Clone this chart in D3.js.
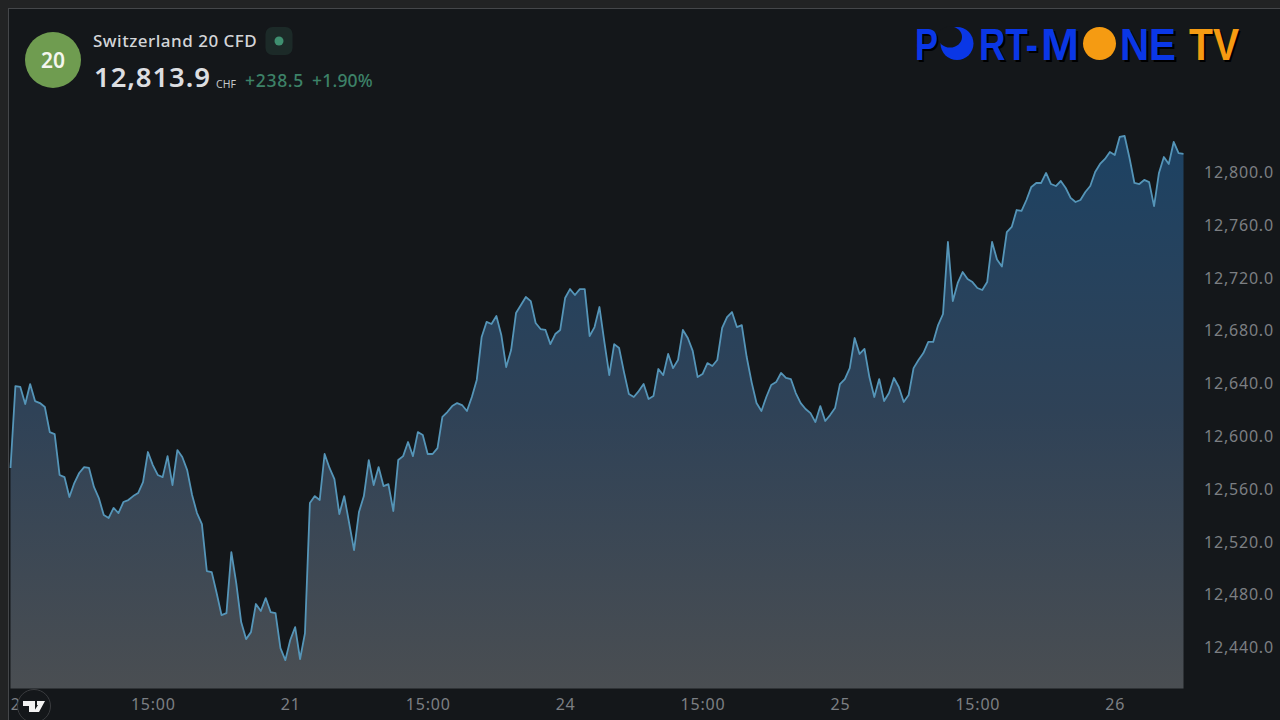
<!DOCTYPE html>
<html lang="en">
<head>
  <meta charset="UTF-8">
  <title>Switzerland 20 CFD</title>
  <style>
    * { margin: 0; padding: 0; box-sizing: border-box; }
    html, body { width: 1280px; height: 720px; overflow: hidden; background: #222324; }
    svg { display: block; }
    text { font-family: "Noto Sans", sans-serif; }
    .tick text { fill: #7c7f83; font-size: 16px; letter-spacing: 0.8px; }
    .logo text { font-family: "Liberation Sans", Arial, sans-serif; font-weight: 700; font-size: 45px; text-shadow: 2px 2px 0 #000; }
  </style>
</head>
<body>
  <div id="chart"></div>

  <script src="https://d3js.org/d3.v7.min.js"></script>
  <script>
    // 30 minute closes
    const prices = [
      12575.3, 12637.4, 12636.7, 12623.8, 12638.9, 12626, 12624.5, 12621.5, 12602.5, 12601,
      12570, 12568.4, 12553.3, 12563.9, 12571.5, 12576, 12575.3, 12560.9, 12552.5, 12539.6,
      12537.4, 12545, 12541.1, 12549.5, 12551, 12554, 12556.3, 12564.6, 12587.4, 12577.5,
      12570, 12568.4, 12584.3, 12562.4, 12588.9, 12583.6, 12573.7, 12554.8, 12541.1, 12532.8,
      12497.2, 12496.4, 12480.5, 12463.8, 12465.3, 12511.6, 12488.1, 12458.5, 12445.6, 12450.9,
      12472.2, 12466.9, 12476.7, 12466.1, 12465.3, 12438.8, 12429.7, 12444.9, 12454.7, 12430.5,
      12450.2, 12548.7, 12554, 12551, 12585.9, 12575.3, 12566.9, 12540.4, 12554, 12533.6,
      12513.1, 12541.9, 12554, 12581.3, 12562.4, 12576, 12561.6, 12563.1, 12542.7, 12581.3,
      12584.3, 12595, 12584.3, 12602.5, 12600.3, 12585.9, 12585.9, 12590.4, 12614, 12617.7,
      12622.2, 12624.5, 12623, 12618.5, 12629.1, 12642, 12674.6, 12686, 12684.4, 12690.5,
      12676.1, 12651.8, 12664.7, 12692.7, 12698.8, 12704.9, 12701.8, 12685.2, 12680.6, 12679.9,
      12669.2, 12676.8, 12679.9, 12704.1, 12710.9, 12706.4, 12710.9, 12710.9, 12675.3, 12682.1,
      12697.3, 12670.8, 12645.7, 12669.2, 12666.2, 12648, 12631.3, 12629.1, 12633.6, 12638.9,
      12627.6, 12629.8, 12650.3, 12645.7, 12661.7, 12651, 12657.1, 12679.9, 12673.8, 12664,
      12644.2, 12646.5, 12654.8, 12652.6, 12657.1, 12681.4, 12689.7, 12693.5, 12682.1, 12683.6,
      12659.4, 12640.4, 12624.5, 12618.5, 12629.1, 12638.2, 12640.4, 12647.3, 12643.5, 12642.7,
      12632.1, 12624.5, 12620, 12616.9, 12610.1, 12622.2, 12610.9, 12615.4, 12620.7, 12638.9,
      12642.7, 12651, 12673.8, 12661.7, 12665.5, 12644.2, 12629.1, 12642.7, 12626, 12632.1,
      12643.5, 12636.7, 12625.3, 12630.6, 12651, 12657.1, 12662.4, 12670.8, 12670.8, 12683.6,
      12692, 12746.6, 12701.8, 12715.5, 12723.8, 12718.5, 12716.2, 12711.7, 12710.2, 12716.2,
      12746.6, 12733.3, 12728, 12754.1, 12758, 12770.8, 12770.1, 12778.4, 12788.3, 12791.3,
      12791.3, 12798.9, 12790.5, 12789, 12792.8, 12787.5, 12780, 12776.9, 12778.4, 12784.5,
      12789, 12799.6, 12805.7, 12809.5, 12814.8, 12812.5, 12826.2, 12826.9, 12810.2, 12791.3,
      12790.5, 12793.6, 12792, 12773.8, 12798.9, 12811, 12805.7, 12822.4, 12814, 12813.3
    ];

    const yTicks = [12440, 12480, 12520, 12560, 12600, 12640, 12680, 12720, 12760, 12800];
    const xTickBars = [2, 29, 57, 85, 113, 141, 169, 197, 225];
    const xTickLabels = ["20", "15:00", "21", "15:00", "24", "15:00", "25", "15:00", "26"];

    const width = 1280;
    const height = 720;
    const plot = { left: 10.5, right: 1183.5, bottom: 688.5, top: 9 };

    const x = d3.scaleLinear().domain([0, prices.length - 1]).range([plot.left, plot.right]);
    const y = d3.scaleLinear().domain([12440, 12800]).range([646.5, 171.5]);

    const svg = d3.select("#chart").append("svg")
      .attr("width", width)
      .attr("height", height);

    const defs = svg.append("defs");
    const grad = defs.append("linearGradient")
      .attr("id", "areaFill")
      .attr("gradientUnits", "userSpaceOnUse")
      .attr("x1", 0).attr("x2", 0)
      .attr("y1", 136).attr("y2", plot.bottom);
    grad.append("stop").attr("offset", "0%").attr("stop-color", "#1d4263");
    grad.append("stop").attr("offset", "50%").attr("stop-color", "#2f4257");
    grad.append("stop").attr("offset", "100%").attr("stop-color", "#4a4e52");

    // panel with thin frame
    svg.append("rect")
      .attr("x", 8.5).attr("y", 8.5)
      .attr("width", width - 8).attr("height", height)
      .attr("fill", "#14171a")
      .attr("stroke", "#45474a");

    const area = d3.area()
      .x((d, i) => x(i))
      .y0(plot.bottom)
      .y1(d => y(d));

    const line = d3.line()
      .x((d, i) => x(i))
      .y(d => y(d));

    svg.append("path").datum(prices)
      .attr("d", area)
      .attr("fill", "url(#areaFill)");

    svg.append("path").datum(prices)
      .attr("d", line)
      .attr("fill", "none")
      .attr("stroke", "#5595b8")
      .attr("stroke-width", 1.8)
      .attr("stroke-linejoin", "round");

    // axes
    const yAxis = d3.axisRight(y)
      .tickValues(yTicks)
      .tickSize(0)
      .tickPadding(0)
      .tickFormat(d3.format(",.1f"));
    svg.append("g")
      .attr("transform", "translate(1204,1)")
      .call(yAxis)
      .call(g => g.select(".domain").remove());

    const xAxis = d3.axisBottom(x)
      .tickValues(xTickBars)
      .tickSize(0)
      .tickPadding(0)
      .tickFormat((d, i) => xTickLabels[i]);
    svg.append("g")
      .attr("transform", "translate(0,699)")
      .call(xAxis)
      .call(g => g.select(".domain").remove());

    // TradingView badge
    const badge = svg.append("g").attr("transform", "translate(34,706)");
    badge.append("circle").attr("r", 16.5).attr("fill", "#14171a").attr("stroke", "#3a3c3f");
    badge.append("path")
      .attr("d", "M-11,-5H1V6H-5V0H-11Z M3,-5H11L5,6H-0.5L4,-1H3Z")
      .attr("fill", "#f2f2f2");

    // header
    svg.append("circle").attr("cx", 53).attr("cy", 60).attr("r", 28).attr("fill", "#6f9c50");
    svg.append("text").attr("x", 53).attr("y", 67.5)
      .attr("text-anchor", "middle")
      .attr("fill", "#f4f6ef").attr("font-size", 21).attr("font-weight", 600)
      .text("20");

    svg.append("text").attr("x", 93).attr("y", 46.5)
      .attr("fill", "#d3d5d8").attr("font-size", 17).attr("font-weight", 500)
      .attr("letter-spacing", 0.5)
      .text("Switzerland 20 CFD");
    svg.append("rect").attr("x", 265.5).attr("y", 27)
      .attr("width", 27).attr("height", 28).attr("rx", 7)
      .attr("fill", "#1c2a28");
    svg.append("circle").attr("cx", 279).attr("cy", 41).attr("r", 4.5).attr("fill", "#3f8f70");

    svg.append("text").attr("x", 94).attr("y", 87)
      .attr("fill", "#dcdee1").attr("font-size", 27.5).attr("font-weight", 600)
      .attr("letter-spacing", 0.9)
      .text("12,813.9");
    svg.append("text").attr("x", 216).attr("y", 88)
      .attr("fill", "#c4c6c9").attr("font-size", 10.5)
      .text("CHF");
    svg.append("text").attr("x", 245).attr("y", 87)
      .attr("fill", "#3d8268").attr("font-size", 17.5).attr("font-weight", 500)
      .attr("letter-spacing", 0.7)
      .text("+238.5");
    svg.append("text").attr("x", 312).attr("y", 87)
      .attr("fill", "#3d8268").attr("font-size", 17.5).attr("font-weight", 500)
      .attr("letter-spacing", 0.2)
      .text("+1.90%");

    // PORT-MONE TV logo
    const blue = "#0a37e6";
    const orange = "#f59b12";
    const logo = svg.append("g").attr("class", "logo");
    const logoParts = [
      { t: "P", x: 915, w: 23, c: blue },
      { t: "RT-", x: 979, w: 59, c: blue },
      { t: "M", x: 1041, w: 38, c: blue },
      { t: "NE", x: 1120, w: 56, c: blue },
      { t: "TV", x: 1189, w: 50, c: orange }
    ];
    logoParts.forEach(p => {
      logo.append("text")
        .attr("x", p.x).attr("y", 60)
        .attr("textLength", p.w)
        .attr("lengthAdjust", "spacingAndGlyphs")
        .attr("fill", p.c)
        .text(p.t);
    });
    logo.append("circle").attr("cx", 957).attr("cy", 43.5).attr("r", 16.5).attr("fill", blue);
    logo.append("ellipse").attr("cx", 950).attr("cy", 37).attr("rx", 12).attr("ry", 10.5).attr("fill", "#14171a");
    logo.append("circle").attr("cx", 1099.5).attr("cy", 43.5).attr("r", 16.5).attr("fill", orange);
  </script>
</body>
</html>
